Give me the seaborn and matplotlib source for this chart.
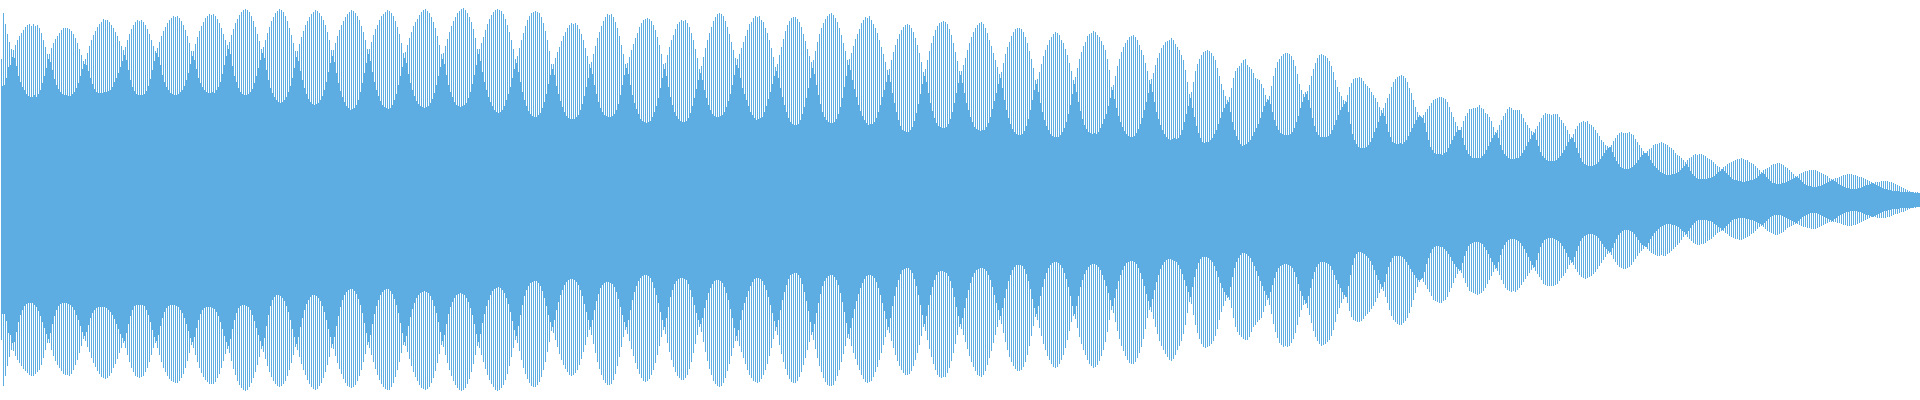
import numpy as np
import matplotlib
matplotlib.use("Agg")
import matplotlib.pyplot as plt
import seaborn as sns

# amplitudes, one row per beat lobe (pixels from centre line)
top_tip = [
141,187,176,166,158,151,
150,155,160,164,167,170,173,175,176,174,176,174,175,172,167,160,153,146,
146,152,157,161,164,167,170,172,172,172,171,169,166,162,157,151,145,139,
141,147,154,160,165,169,173,176,178,181,180,180,178,175,172,168,164,159,154,150,
153,160,166,171,175,178,180,179,180,178,175,171,166,160,154,149,
152,158,164,169,173,177,180,182,184,183,184,182,179,175,170,164,157,149,
149,156,163,169,174,178,182,184,186,185,186,184,181,177,172,166,160,155,
158,165,171,177,181,185,188,190,191,190,188,184,179,173,166,159,151,
153,160,167,173,179,183,187,189,191,190,188,184,179,172,165,157,149,
149,156,163,169,175,179,183,186,188,190,189,187,184,180,175,168,160,150,
150,157,164,170,175,179,183,186,188,190,189,187,184,180,174,168,160,151,
151,158,165,171,175,180,184,186,188,190,189,187,184,179,173,166,157,147,
148,155,162,168,174,178,181,185,188,190,191,189,187,183,178,172,164,155,146,
147,154,161,168,174,179,183,187,189,191,192,190,187,183,178,171,162,151,
151,157,163,170,176,181,185,188,190,191,190,189,186,181,175,168,160,151,141,
144,152,160,167,174,180,184,187,188,189,188,187,183,177,169,160,149,136,
136,142,148,153,159,164,168,172,175,177,176,177,175,171,166,160,152,144,136,
138,146,154,162,168,174,179,183,186,185,186,183,178,172,164,155,146,136,
137,143,150,156,162,167,173,177,180,181,182,181,179,175,170,163,155,146,136,
137,145,153,160,165,171,176,178,180,179,180,177,173,167,160,151,142,131,
134,143,152,160,167,173,179,183,186,187,186,184,179,173,166,158,150,142,
141,146,152,158,164,170,176,178,182,184,183,184,180,178,172,167,160,152,143,133,
136,145,153,161,169,175,179,182,183,183,181,178,173,166,159,151,144,138,
140,149,158,166,172,177,181,184,186,187,185,182,178,172,165,157,149,140,
141,147,154,161,166,171,177,180,183,182,184,180,176,172,167,160,153,146,138,130,
131,140,148,155,161,166,170,173,175,176,175,172,168,162,155,147,138,128,
131,140,149,157,164,170,174,177,178,179,178,176,171,165,157,148,139,129,
129,135,142,150,157,163,168,172,175,177,178,176,172,167,160,154,147,140,133,126,
128,137,146,153,158,164,168,171,172,172,171,168,163,157,149,141,132,120,
121,128,136,144,150,155,160,163,166,168,167,165,160,157,151,145,137,129,120,
123,132,141,148,154,158,164,166,167,169,168,165,163,159,155,150,141,130,113,
115,124,134,141,148,153,157,160,163,164,165,163,160,155,150,145,137,129,120,
121,127,135,142,147,152,155,158,159,160,162,160,156,153,150,145,140,130,118,106,
108,118,129,136,141,145,148,149,150,149,147,144,140,132,124,116,110,104,100,
103,112,122,129,132,134,137,140,141,135,133,131,127,122,121,120,116,112,105,101,
104,114,124,132,138,141,144,146,147,147,146,144,140,134,126,116,110,106,108,
109,115,124,131,137,142,145,146,145,144,142,139,134,128,120,113,108,104,100,99,
105,113,117,121,122,122,123,122,119,116,114,112,108,105,102,98,93,90,
92,97,102,106,113,118,121,123,124,125,124,122,118,112,107,100,93,88,85,83,
85,88,91,94,97,100,101,102,103,103,102,101,98,93,88,83,78,74,70,
73,79,84,87,91,91,92,92,93,95,92,91,87,86,83,79,73,68,
70,75,80,84,87,91,93,92,90,90,90,90,86,82,78,75,72,69,68,
71,74,78,82,85,87,86,86,85,86,86,86,83,80,77,74,70,66,63,
66,71,74,77,78,79,78,79,76,75,73,70,67,64,60,58,55,54,53,
55,59,62,65,67,68,67,67,67,68,66,65,61,58,55,52,49,47,
49,51,52,55,56,56,57,58,57,56,55,53,52,50,47,45,44,42,40,38,
40,42,43,45,46,45,46,46,45,44,42,41,40,38,36,34,33,31,
33,34,36,37,38,39,40,41,41,42,41,40,40,38,37,36,34,32,30,28,
30,31,32,33,35,36,36,37,37,36,35,33,32,30,28,26,24,
24,26,27,28,29,29,30,30,30,30,29,28,27,26,25,24,22,21,
21,22,22,23,24,25,25,26,26,26,25,25,24,23,23,22,21,20,19,18,
17,18,18,18,19,19,19,19,18,18,17,16,15,14,13,12,11,10,9,8,
8,8,8,7,
]

top_valley = [
114,115,122,133,135,143,
142,134,124,118,113,110,106,104,103,103,105,103,106,110,117,124,132,141,
138,130,121,115,111,108,106,105,105,104,104,106,108,112,117,124,131,136,
135,129,122,116,111,108,107,107,107,108,108,109,110,113,118,122,127,133,139,145,
140,130,120,113,109,106,105,105,105,106,109,114,121,130,139,147,
143,135,125,118,113,110,107,106,105,105,106,108,110,114,120,127,136,144,
140,131,122,117,113,110,108,107,107,108,107,110,113,118,126,135,144,151,
146,134,124,118,112,108,106,105,105,106,108,111,117,124,132,140,147,
142,130,120,112,107,103,100,98,97,98,100,103,108,114,122,132,143,
139,129,120,112,106,101,98,96,95,96,97,100,104,110,118,128,137,144,
138,127,117,109,103,98,94,92,90,91,92,95,100,108,117,127,137,146,
139,128,118,110,104,99,95,93,92,91,92,95,100,106,115,124,133,142,
137,126,117,110,104,99,96,94,93,92,93,94,97,101,107,115,124,133,141,
136,125,115,108,103,98,95,94,93,94,95,97,102,108,116,125,135,146,
139,128,118,110,103,98,94,90,88,87,88,90,94,100,106,113,122,131,137,
128,118,108,100,94,89,86,84,83,83,85,87,92,98,106,116,125,131,
125,114,106,99,93,88,84,82,81,81,81,83,85,90,96,104,113,122,132,
126,115,106,98,92,88,85,84,83,83,84,86,90,96,105,115,125,132,
126,115,105,97,91,86,81,79,78,77,78,79,83,88,94,102,112,122,131,
124,113,103,95,88,84,81,79,78,78,79,82,87,94,102,111,120,127,
120,110,102,95,90,86,84,83,83,84,85,88,93,99,106,115,125,135,
132,122,112,106,100,94,88,85,82,80,81,82,83,88,94,101,108,116,124,129,
122,112,103,95,88,82,78,76,75,75,76,80,86,93,102,112,122,132,
126,115,105,96,88,83,80,78,77,77,78,81,86,93,102,113,124,135,
130,120,111,103,95,89,84,80,77,75,76,76,78,82,88,95,103,110,118,125,
118,107,97,88,80,74,70,69,68,68,70,73,79,87,96,106,116,124,
118,107,97,89,82,77,74,73,72,72,73,76,81,88,97,107,117,125,
117,107,97,90,83,78,73,71,70,69,70,70,73,77,83,91,99,107,116,122,
112,100,90,82,76,71,68,66,65,65,66,69,74,81,90,100,110,116,
108,97,88,80,74,70,66,64,63,63,63,65,68,72,78,86,95,106,116,
108,98,89,81,75,71,68,67,66,67,66,68,72,76,81,86,94,102,110,
101,92,84,78,73,69,66,64,63,63,64,67,71,76,82,90,98,107,116,
108,98,88,81,75,70,66,63,61,60,61,62,61,62,65,70,78,86,94,102,
92,83,74,67,62,58,57,58,58,60,62,66,70,76,82,88,92,96,98,
88,78,70,64,60,56,54,55,56,58,60,64,68,72,76,82,88,94,98,100,
96,88,80,74,70,67,66,65,65,65,66,68,72,78,84,92,98,103,106,
100,92,82,74,68,65,63,63,63,63,64,66,70,75,80,85,90,93,96,98,
88,76,66,60,56,53,52,52,52,53,55,58,62,68,72,78,84,87,
84,76,68,63,58,57,56,56,57,56,58,60,64,68,72,76,80,83,84,82,
77,68,60,53,50,47,46,46,46,45,47,48,52,56,60,64,68,70,70,
62,55,50,46,44,42,42,42,42,42,44,46,50,54,58,62,65,67,
62,55,50,46,44,42,41,41,41,42,42,44,47,50,54,58,61,65,67,
60,54,48,44,42,40,39,39,39,39,40,42,44,47,50,54,58,61,62,
58,52,47,42,38,36,35,34,34,34,35,36,38,41,44,47,50,52,53,
48,43,39,36,33,32,31,31,31,32,33,35,37,40,43,45,47,47,
44,40,37,34,32,30,28,27,26,25,25,25,26,26,27,28,30,32,34,36,
33,29,26,24,22,21,21,21,21,21,22,22,23,24,26,28,29,31,
29,27,25,23,21,20,20,19,19,18,18,19,19,20,20,21,22,24,26,27,
26,23,21,19,17,17,16,16,16,17,17,18,19,20,21,22,23,
22,20,18,16,15,14,14,13,13,13,14,14,15,16,17,18,19,20,
19,18,16,15,14,13,12,12,11,11,11,11,12,12,13,14,15,15,16,17,
16,15,14,13,12,11,11,10,10,9,9,9,9,8,8,8,8,8,8,8,
7,7,7,6,
]

bot_tip = [
140,186,176,166,157,150,
151,156,160,163,166,169,171,173,175,176,176,174,172,170,165,158,150,143,
143,150,156,161,165,168,171,174,175,175,176,174,170,165,160,153,146,139,
141,147,152,158,163,167,171,174,177,178,179,178,176,173,168,164,159,153,148,143,
148,155,162,168,172,176,177,178,177,176,172,168,162,155,148,143,
148,155,162,168,172,176,179,181,182,183,183,181,178,174,168,161,153,145,
148,155,162,168,173,177,180,182,184,184,184,182,178,174,168,161,154,149,
153,161,169,175,181,185,188,190,191,190,187,183,178,172,165,157,149,
152,159,166,172,177,181,184,186,187,186,184,181,176,170,163,155,147,
150,157,164,170,175,180,184,187,189,190,189,186,183,178,172,165,157,148,
149,156,163,169,174,179,183,186,187,188,187,185,181,176,170,162,154,145,
148,155,162,169,175,180,184,187,189,190,190,187,183,177,170,162,153,145,
146,152,159,166,172,177,181,185,188,189,190,189,187,183,178,171,163,154,145,
147,155,163,170,176,181,185,188,190,191,190,188,184,179,172,164,155,146,
148,155,162,169,175,180,184,187,190,191,190,188,185,180,174,166,157,148,140,
143,151,160,168,174,179,183,186,187,187,185,182,177,170,162,152,142,131,
133,140,147,154,160,165,169,172,175,176,175,173,170,165,159,152,145,137,130,
135,144,153,162,169,175,180,183,185,185,184,180,174,166,157,147,137,130,
134,141,149,156,163,169,174,178,181,182,181,179,175,170,163,155,146,137,130,
134,143,152,160,167,172,176,178,180,180,178,175,169,162,153,144,135,127,
132,142,152,161,169,175,181,184,186,187,186,183,178,171,164,156,148,141,
141,146,152,158,164,170,175,178,181,182,183,182,179,175,170,164,156,148,139,131,
135,145,154,162,169,175,179,182,183,183,181,177,172,165,158,150,142,135,
140,149,158,166,172,178,182,185,186,186,185,181,176,170,162,154,146,138,
139,146,153,159,165,170,175,179,182,183,182,181,177,172,167,160,153,145,137,130,
133,141,148,155,161,166,170,173,175,175,174,171,166,160,153,145,136,127,
131,140,149,157,164,170,175,177,178,177,177,173,168,161,153,144,135,127,
129,135,142,149,156,162,167,171,175,176,177,175,171,165,158,151,143,135,127,120,
124,133,142,150,157,162,166,169,171,171,170,167,162,155,146,136,126,117,
120,128,136,144,150,156,160,164,167,168,167,164,160,155,148,140,131,122,116,
119,128,137,144,150,155,160,164,166,168,167,165,161,156,150,142,132,120,110,
113,122,131,139,146,151,156,160,163,164,164,162,158,153,147,139,129,118,110,
112,119,127,134,141,146,150,154,157,160,161,159,155,150,146,141,134,125,113,102,
104,115,125,133,139,144,147,148,147,146,144,141,136,129,120,112,106,101,98,
100,108,118,127,132,135,137,139,140,140,137,132,127,125,122,120,118,112,106,100,
105,114,124,132,138,143,145,147,146,147,146,143,139,133,125,117,110,105,104,
108,115,123,131,137,141,144,146,145,144,142,140,136,130,122,114,108,103,99,97,
103,111,117,120,121,122,122,121,119,116,114,112,109,106,102,98,93,89,
91,97,103,110,116,120,122,124,125,125,123,121,118,113,107,100,93,87,82,79,
82,85,89,92,96,100,101,102,103,103,101,100,97,92,88,83,78,74,71,
73,78,83,87,91,92,93,94,95,94,93,91,88,84,80,76,72,69,
71,75,80,84,88,90,91,92,91,92,90,88,85,82,79,76,73,70,68,
71,74,77,80,84,85,86,86,86,86,85,84,81,78,76,73,69,65,63,
65,69,72,75,77,78,79,78,77,76,74,72,69,66,63,60,57,54,53,
55,59,62,65,67,68,69,69,68,67,65,62,59,56,53,51,49,47,
49,51,53,54,55,56,56,55,56,56,54,53,51,49,47,45,43,40,37,35,
37,39,41,43,44,45,45,44,44,43,41,40,39,37,35,33,32,31,
31,33,34,36,37,38,39,39,40,40,39,38,37,36,34,33,31,29,27,26,
27,29,31,32,33,34,35,35,34,33,32,30,28,27,26,25,24,
24,25,26,27,27,28,28,29,29,29,28,27,26,25,24,23,22,22,
22,22,23,23,24,25,25,26,26,26,25,25,24,23,22,21,20,19,18,17,
17,17,18,18,18,18,18,17,17,16,15,14,14,13,12,12,11,10,9,8,
8,8,7,7,
]

bot_valley = [
114,114,121,133,135,143,
142,132,122,115,110,106,104,103,103,103,105,107,111,116,122,128,134,139,
133,124,116,110,106,104,103,103,103,104,105,107,110,115,120,126,132,136,
132,125,118,113,110,108,107,107,107,107,108,110,112,115,119,124,129,134,138,141,
133,124,116,110,106,105,105,105,105,106,110,115,122,130,137,141,
135,126,118,112,108,106,105,105,105,106,107,110,113,118,124,131,138,142,
137,128,120,114,110,108,107,107,107,108,109,112,116,122,129,136,142,146,
139,129,120,113,108,106,105,105,106,107,110,115,121,128,135,141,146,
138,126,115,106,100,97,95,95,96,98,101,106,112,120,129,137,144,
137,127,118,110,104,100,97,95,95,96,98,101,106,112,120,129,137,144,
137,126,116,107,100,95,92,90,89,89,91,94,99,105,113,123,133,142,
135,124,114,106,100,95,92,90,89,89,91,94,99,105,113,123,133,142,
136,126,117,109,103,98,95,93,92,91,92,93,96,100,106,113,122,132,141,
135,124,114,107,102,98,95,94,93,94,95,98,102,108,115,124,134,142,
134,123,114,106,100,95,91,89,88,87,88,90,93,98,104,112,121,130,136,
126,115,105,96,90,86,83,82,81,81,83,86,91,98,106,115,122,127,
120,110,102,95,90,85,82,80,79,79,80,82,85,90,96,104,112,120,127,
120,110,101,94,88,85,83,82,82,83,84,87,92,99,107,115,122,127,
120,110,100,92,86,81,78,76,75,75,76,78,82,88,95,103,112,120,127,
118,107,97,90,84,81,79,78,78,79,80,84,90,97,105,113,120,124,
118,108,100,93,88,84,81,80,80,81,83,87,93,100,109,118,128,136,
130,120,110,103,97,91,86,82,79,78,78,79,81,85,90,97,105,113,121,127,
120,110,100,92,85,79,75,74,73,73,75,78,84,92,101,111,122,132,
124,113,103,94,86,81,78,76,75,75,77,80,85,93,102,112,123,134,
128,118,109,101,94,88,83,79,76,75,75,76,78,82,88,95,103,111,119,127,
118,106,96,87,80,74,70,69,68,68,70,73,79,86,95,105,115,124,
116,105,95,87,80,75,72,71,71,72,73,76,81,88,97,107,116,124,
118,108,98,90,83,77,73,70,69,68,68,69,71,75,80,87,95,103,110,116,
108,98,89,81,75,70,67,65,65,65,66,69,74,81,89,99,108,114,
106,96,87,79,73,68,65,63,62,62,63,65,68,73,79,87,96,106,114,
106,96,87,80,74,70,67,65,64,64,65,67,70,75,80,86,93,100,106,
98,89,81,75,70,66,63,62,61,61,62,64,68,73,79,86,94,101,107,
99,90,82,75,69,65,62,60,59,59,60,61,62,65,69,74,80,86,92,97,
87,77,69,63,59,57,57,57,58,60,62,66,71,77,83,88,92,95,97,
87,77,68,62,58,55,53,53,54,56,58,62,66,71,76,81,86,91,95,98,
92,85,78,72,68,66,65,64,64,65,66,68,72,77,84,91,96,100,103,
96,88,79,72,67,64,62,62,62,63,64,66,70,75,80,84,88,92,95,97,
86,75,65,58,54,52,52,53,54,56,58,61,65,70,75,80,84,87,
82,74,67,62,58,56,56,56,56,57,59,62,65,69,72,75,78,80,80,78,
72,64,58,53,49,47,46,46,47,47,49,51,54,57,61,64,67,69,70,
63,56,51,46,44,43,42,42,42,43,44,47,50,54,58,62,65,68,
62,55,49,45,42,40,39,39,39,40,41,43,46,49,53,57,61,65,67,
60,53,47,43,40,39,38,38,38,39,40,41,43,46,49,53,57,60,62,
57,51,46,41,38,36,35,34,34,34,35,36,38,41,44,47,49,51,52,
48,43,39,35,33,31,30,30,30,31,32,34,37,40,43,45,46,47,
43,39,36,33,31,29,27,26,25,24,24,24,25,25,26,27,29,31,32,34,
31,28,25,23,21,20,20,20,20,20,21,21,22,24,25,27,28,30,
28,26,24,22,20,19,19,18,18,18,18,19,19,20,20,21,22,23,24,25,
23,21,19,17,16,15,15,15,15,16,17,18,19,20,21,22,23,
21,19,17,16,15,14,13,13,13,13,14,15,16,17,18,19,20,21,
19,18,16,15,14,13,12,12,11,11,11,11,12,12,13,14,15,15,16,17,
16,15,14,13,12,11,11,10,10,9,9,9,9,8,8,8,8,8,8,8,
7,7,7,7,
]

BLUE = "#5DADE2"

sns.set_theme(style="white")
fig, ax = plt.subplots(figsize=(19.2, 4), dpi=100)
ax.set_position([0, 0, 1, 1])


def draw(values, sign, offset, width):
    # bars grow from the centre line, one bar per sample
    xs = np.arange(len(values)) + offset
    sns.barplot(x=xs, y=sign * np.array(values), native_scale=True, width=width,
                color=BLUE, saturation=1, linewidth=0, errorbar=None,
                antialiased=False, ax=ax)


# solid body first, then the thin spikes on top
draw(top_valley, 1, 0.25, 1)
draw(bot_valley, -1, 0.25, 1)
draw(top_tip, 1, 0, 0.5)
draw(bot_tip, -1, 0, 0.5)

ax.set_xlim(-0.75, 959.25)
ax.set_ylim(-200, 200)
ax.set_axis_off()

fig.savefig("out.png", dpi=100, facecolor="white")
